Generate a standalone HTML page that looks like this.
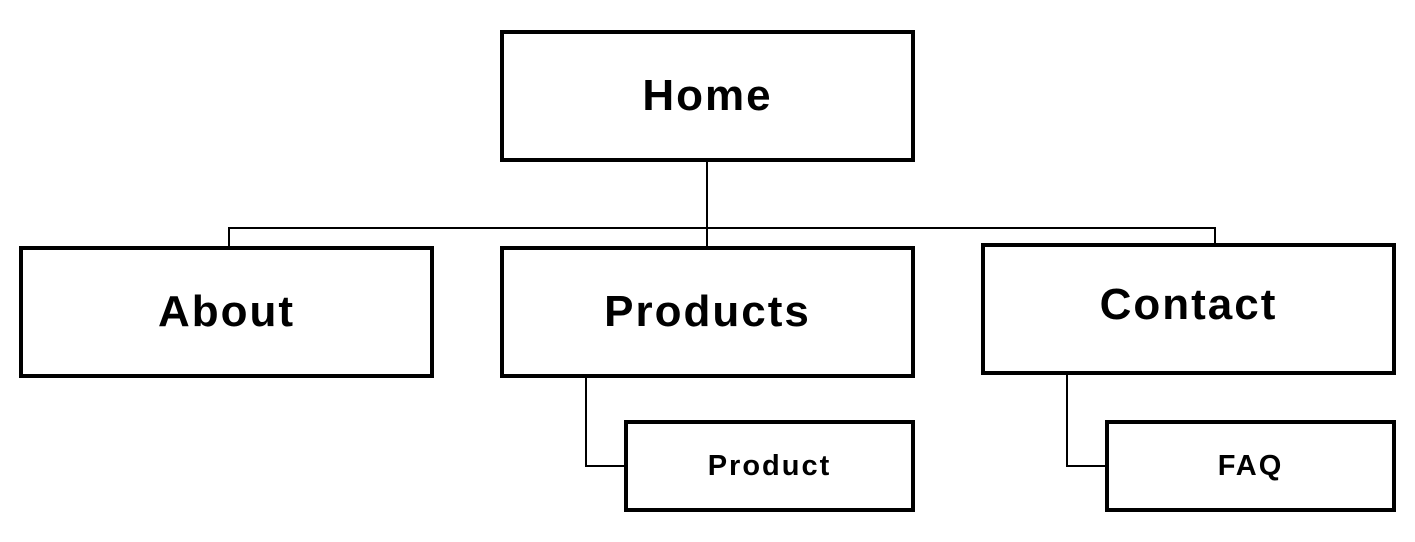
<!DOCTYPE html>
<html><head><style>
body{margin:0;background:#fff;width:1415px;height:542px;overflow:hidden;position:relative;font-family:"Liberation Sans",sans-serif;}
.b{position:absolute;box-sizing:border-box;border:4px solid #000;display:flex;align-items:center;justify-content:center;font-weight:bold;color:#000;}
.l{position:absolute;background:#000;}
</style></head><body>
<div class="l" style="left:706px;top:161px;width:1.5px;height:86px"></div>
<div class="l" style="left:228px;top:227px;width:988px;height:1.5px"></div>
<div class="l" style="left:228px;top:227px;width:1.5px;height:20px"></div>
<div class="l" style="left:1214px;top:227px;width:1.5px;height:17px"></div>
<div class="l" style="left:585px;top:377px;width:1.5px;height:89px"></div>
<div class="l" style="left:585px;top:465px;width:40px;height:1.5px"></div>
<div class="l" style="left:1066px;top:374px;width:1.5px;height:92px"></div>
<div class="l" style="left:1066px;top:465px;width:40px;height:1.5px"></div>
<div class="b" style="left:500px;top:30px;width:415px;height:132px;font-size:44px;letter-spacing:2px">Home</div>
<div class="b" style="left:19px;top:246px;width:415px;height:132px;font-size:44px;letter-spacing:2px">About</div>
<div class="b" style="left:500px;top:246px;width:415px;height:132px;font-size:44px;letter-spacing:2px">Products</div>
<div class="b" style="left:981px;top:243px;width:415px;height:132px;font-size:44px;letter-spacing:2px;padding-bottom:8px">Contact</div>
<div class="b" style="left:624px;top:420px;width:291px;height:92px;font-size:29px;letter-spacing:2px">Product</div>
<div class="b" style="left:1105px;top:420px;width:291px;height:92px;font-size:29px;letter-spacing:2px">FAQ</div>
</body></html>
